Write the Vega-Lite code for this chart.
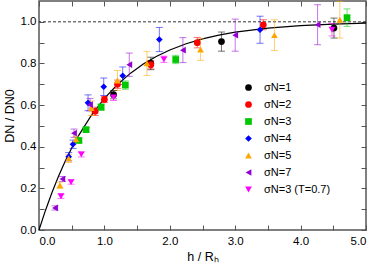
{
  "$schema": "https://vega.github.io/schema/vega-lite/v6.json",
  "width": 327,
  "height": 229,
  "autosize": "none",
  "padding": {"left": 39, "top": 1, "right": 8, "bottom": 38},
  "config": {
    "font": "Liberation Sans",
    "view": {"stroke": "#555555", "strokeWidth": 1.5},
    "axis": {"grid": false, "domain": false, "tickColor": "#555555", "labelColor": "#000000", "titleColor": "#000000", "labelFontSize": 11.5, "titleFontSize": 12.5, "titleFontWeight": "normal", "tickSize": -5}
  },
  "datasets": {
    "pts": [
      {"h": 1.14, "D": 0.65, "lo": 0.63, "hi": 0.67, "s": "σN=1"},
      {"h": 1.71, "D": 0.80, "lo": 0.77, "hi": 0.83, "s": "σN=1"},
      {"h": 2.79, "D": 0.905, "lo": 0.859, "hi": 0.951, "s": "σN=1"},
      {"h": 4.51, "D": 0.97, "lo": 0.922, "hi": 1.018, "s": "σN=1"},
      {"h": 0.86, "D": 0.57, "lo": 0.55, "hi": 0.59, "s": "σN=2"},
      {"h": 1.0, "D": 0.627, "lo": 0.612, "hi": 0.642, "s": "σN=2"},
      {"h": 1.2, "D": 0.70, "lo": 0.68, "hi": 0.72, "s": "σN=2"},
      {"h": 1.71, "D": 0.794, "lo": 0.774, "hi": 0.814, "s": "σN=2"},
      {"h": 2.42, "D": 0.90, "lo": 0.875, "hi": 0.925, "s": "σN=2"},
      {"h": 3.43, "D": 0.986, "lo": 0.962, "hi": 1.01, "s": "σN=2"},
      {"h": 0.61, "D": 0.43, "lo": 0.42, "hi": 0.44, "s": "σN=3"},
      {"h": 0.72, "D": 0.482, "lo": 0.472, "hi": 0.492, "s": "σN=3"},
      {"h": 0.95, "D": 0.59, "lo": 0.575, "hi": 0.605, "s": "σN=3"},
      {"h": 1.32, "D": 0.696, "lo": 0.676, "hi": 0.716, "s": "σN=3"},
      {"h": 2.09, "D": 0.819, "lo": 0.799, "hi": 0.839, "s": "σN=3"},
      {"h": 4.71, "D": 1.02, "lo": 0.978, "hi": 1.062, "s": "σN=3"},
      {"h": 0.454, "D": 0.352, "lo": 0.332, "hi": 0.372, "s": "σN=4"},
      {"h": 0.52, "D": 0.412, "lo": 0.392, "hi": 0.432, "s": "σN=4"},
      {"h": 0.75, "D": 0.611, "lo": 0.573, "hi": 0.649, "s": "σN=4"},
      {"h": 0.99, "D": 0.688, "lo": 0.646, "hi": 0.73, "s": "σN=4"},
      {"h": 1.28, "D": 0.741, "lo": 0.699, "hi": 0.783, "s": "σN=4"},
      {"h": 1.84, "D": 0.915, "lo": 0.857, "hi": 0.973, "s": "σN=4"},
      {"h": 3.38, "D": 0.962, "lo": 0.897, "hi": 1.027, "s": "σN=4"},
      {"h": 0.32, "D": 0.215, "lo": 0.2, "hi": 0.23, "s": "σN=5"},
      {"h": 0.454, "D": 0.344, "lo": 0.324, "hi": 0.364, "s": "σN=5"},
      {"h": 0.566, "D": 0.435, "lo": 0.42, "hi": 0.45, "s": "σN=5"},
      {"h": 0.80, "D": 0.585, "lo": 0.55, "hi": 0.62, "s": "σN=5"},
      {"h": 1.2, "D": 0.718, "lo": 0.67, "hi": 0.766, "s": "σN=5"},
      {"h": 1.65, "D": 0.80, "lo": 0.742, "hi": 0.858, "s": "σN=5"},
      {"h": 2.47, "D": 0.867, "lo": 0.815, "hi": 0.919, "s": "σN=5"},
      {"h": 3.6, "D": 0.936, "lo": 0.862, "hi": 1.01, "s": "σN=5"},
      {"h": 4.6, "D": 1.01, "lo": 0.922, "hi": 1.098, "s": "σN=5"},
      {"h": 0.245, "D": 0.106, "lo": 0.096, "hi": 0.116, "s": "σN=7"},
      {"h": 0.357, "D": 0.245, "lo": 0.233, "hi": 0.257, "s": "σN=7"},
      {"h": 0.535, "D": 0.465, "lo": 0.445, "hi": 0.485, "s": "σN=7"},
      {"h": 0.78, "D": 0.602, "lo": 0.572, "hi": 0.632, "s": "σN=7"},
      {"h": 1.38, "D": 0.794, "lo": 0.738, "hi": 0.85, "s": "σN=7"},
      {"h": 2.2, "D": 0.864, "lo": 0.804, "hi": 0.924, "s": "σN=7"},
      {"h": 3.0, "D": 0.936, "lo": 0.859, "hi": 1.013, "s": "σN=7"},
      {"h": 4.26, "D": 0.986, "lo": 0.89, "hi": 1.082, "s": "σN=7"},
      {"h": 0.336, "D": 0.162, "lo": 0.152, "hi": 0.172, "s": "σN=3 (T=0.7)"},
      {"h": 0.49, "D": 0.23, "lo": 0.22, "hi": 0.24, "s": "σN=3 (T=0.7)"},
      {"h": 0.647, "D": 0.363, "lo": 0.351, "hi": 0.375, "s": "σN=3 (T=0.7)"},
      {"h": 1.14, "D": 0.637, "lo": 0.622, "hi": 0.652, "s": "σN=3 (T=0.7)"},
      {"h": 1.91, "D": 0.82, "lo": 0.805, "hi": 0.835, "s": "σN=3 (T=0.7)"},
      {"h": 4.48, "D": 0.962, "lo": 0.932, "hi": 0.992, "s": "σN=3 (T=0.7)"}
    ],
    "curve": [
      {"h": 0, "D": 0}, {"h": 0.1, "D": 0.0952}, {"h": 0.2, "D": 0.1813}, {"h": 0.3, "D": 0.2592},
      {"h": 0.4, "D": 0.3297}, {"h": 0.5, "D": 0.3935}, {"h": 0.6, "D": 0.4512}, {"h": 0.8, "D": 0.5507},
      {"h": 1.0, "D": 0.6321}, {"h": 1.2, "D": 0.6988}, {"h": 1.4, "D": 0.7534}, {"h": 1.6, "D": 0.7981},
      {"h": 1.8, "D": 0.8347}, {"h": 2.0, "D": 0.8647}, {"h": 2.25, "D": 0.8946}, {"h": 2.5, "D": 0.9179},
      {"h": 2.75, "D": 0.9361}, {"h": 3.0, "D": 0.9502}, {"h": 3.5, "D": 0.9698}, {"h": 4.0, "D": 0.9817},
      {"h": 4.5, "D": 0.9889}, {"h": 5.0, "D": 0.9933}
    ],
    "ref": [{"D": 1.0}]
  },
  "resolve": {"axis": {"x": "independent", "y": "independent"}, "legend": {"color": "independent", "shape": "independent"}},
  "layer": [
    {
      "data": {"name": "ref"},
      "mark": {"type": "rule", "strokeDash": [3, 2], "strokeWidth": 0.8, "color": "#000000"},
      "encoding": {
        "y": {"field": "D", "type": "quantitative", "scale": {"domain": [0, 1.1], "nice": false, "zero": false}, "axis": null}
      }
    },
    {
      "data": {"name": "curve"},
      "mark": {"type": "line", "color": "#000000", "strokeWidth": 1.2},
      "encoding": {
        "x": {"field": "h", "type": "quantitative", "scale": {"domain": [0, 5], "nice": false, "zero": false},
              "axis": {"orient": "top", "values": [0, 0.5, 1, 1.5, 2, 2.5, 3, 3.5, 4, 4.5, 5], "labels": false, "title": null}},
        "y": {"field": "D", "type": "quantitative", "scale": {"domain": [0, 1.1], "nice": false, "zero": false},
              "axis": {"orient": "right", "values": [0, 0.1, 0.2, 0.3, 0.4, 0.5, 0.6, 0.7, 0.8, 0.9, 1.0], "labels": false, "title": null}}
      }
    },
    {
      "data": {"name": "pts"},
      "mark": {"type": "errorbar", "ticks": {"size": 7, "opacity": 0.55}, "rule": {"opacity": 0.55}, "thickness": 1},
      "encoding": {
        "x": {"field": "h", "type": "quantitative", "axis": null},
        "y": {"field": "lo", "type": "quantitative", "axis": null},
        "y2": {"field": "hi"},
        "color": {"field": "s", "type": "nominal", "legend": null,
                  "scale": {"domain": ["σN=1", "σN=2", "σN=3", "σN=4", "σN=5", "σN=7", "σN=3 (T=0.7)"],
                            "range": ["#000000", "#ff0000", "#00c800", "#0000ff", "#ffa500", "#9400d3", "#ff00ff"]}}
      }
    },
    {
      "data": {"name": "pts"},
      "mark": {"type": "point", "filled": true, "opacity": 1, "size": 45},
      "encoding": {
        "x": {"field": "h", "type": "quantitative",
              "axis": {"orient": "bottom", "values": [0, 0.5, 1, 1.5, 2, 2.5, 3, 3.5, 4, 4.5, 5],
                       "labelExpr": "datum.value % 1 == 0 ? format(datum.value, '.1f') : ''",
                       "title": "h / Rₕ", "labelPadding": 10, "titlePadding": 4}},
        "y": {"field": "D", "type": "quantitative",
              "axis": {"orient": "left", "values": [0, 0.1, 0.2, 0.3, 0.4, 0.5, 0.6, 0.7, 0.8, 0.9, 1.0],
                       "labelExpr": "round(datum.value * 10) % 2 == 0 ? format(datum.value, '.1f') : ''",
                       "title": "DN / DN0", "labelPadding": 8, "titlePadding": 4}},
        "color": {"field": "s", "type": "nominal", "title": null,
                  "scale": {"domain": ["σN=1", "σN=2", "σN=3", "σN=4", "σN=5", "σN=7", "σN=3 (T=0.7)"],
                            "range": ["#000000", "#ff0000", "#00c800", "#0000ff", "#ffa500", "#9400d3", "#ff00ff"]},
                  "legend": {"orient": "none", "legendX": 204, "legendY": 81, "labelFontSize": 11, "rowPadding": 5, "labelOffset": 10, "symbolSize": 45}},
        "shape": {"field": "s", "type": "nominal", "title": null,
                  "scale": {"domain": ["σN=1", "σN=2", "σN=3", "σN=4", "σN=5", "σN=7", "σN=3 (T=0.7)"],
                            "range": ["circle", "circle", "square", "diamond", "triangle-up", "triangle-left", "triangle-down"]}}
      }
    }
  ]
}
